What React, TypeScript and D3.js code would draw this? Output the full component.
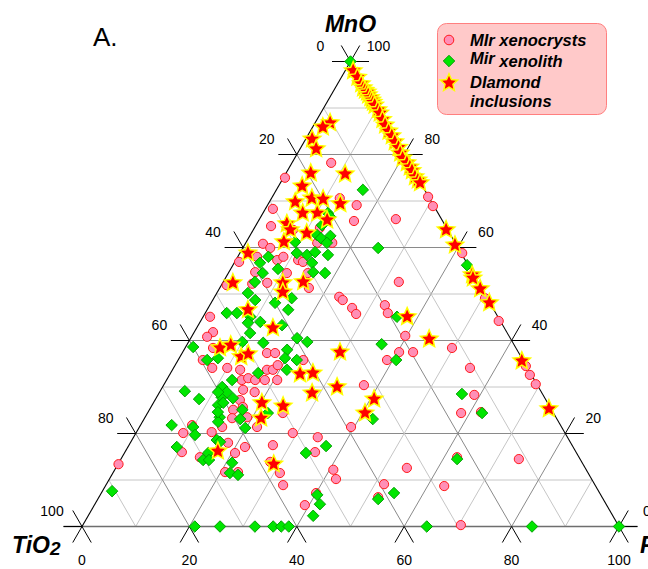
import React, { useEffect } from 'react';
import * as d3 from 'd3';

const W = 648;
const H = 569;

// Compositions as [MnO, FeO] in %; TiO2 is the remainder to 100.
const xenocrysts: [number, number][] = [
  [70.9, 29.0], [68.9, 30.9], [58.8, 41.4], [49.1, 50.5], [44.2, 55.5], [34.5, 65.4], [32.6, 67.1], [30.6, 69.2],
  [52.6, 32.7], [49.4, 23.2], [48.7, 24.2], [47.0, 26.8], [45.7, 28.2], [47.6, 32.6], [45.9, 34.0], [41.0, 39.7],
  [37.5, 40.3], [37.5, 42.9], [35.8, 38.9], [38.4, 49.7], [34.1, 55.2], [30.4, 37.3], [21.4, 39.4], [28.3, 58.9],
  [24.4, 58.4], [24.6, 62.0], [14.9, 62.4], [14.5, 74.1], [12.6, 54.2], [12.2, 40.7], [10.2, 42.2], [9.1, 51.7],
  [6.3, 52.0], [8.7, 63.1], [0.3, 70.4],
  [70.6, 12.7], [69.1, 16.6], [66.1, 25.4], [78.2, 7.3], [75.0, 0.3], [68.3, 1.4], [65.7, 17.8], [64.6, 2.9],
  [60.8, 3.3], [59.9, 5.1], [56.9, 0.8], [58.0, 3.6], [57.3, 7.7], [63.8, 7.4], [64.2, 12.2], [61.0, 13.3],
  [61.0, 16.1], [58.0, 8.5], [57.3, 11.6], [56.9, 12.7], [54.7, 4.9], [54.5, 10.9], [54.5, 14.8], [51.9, 1.0],
  [52.2, 5.6], [52.4, 8.3], [51.3, 16.6], [45.1, 1.3], [41.8, 3.5], [40.8, 2.9], [38.4, 5.2], [35.8, 4.6],
  [34.1, 7.2], [34.1, 10.0], [33.7, 12.6], [31.5, 14.0], [31.9, 15.0], [31.5, 16.5], [31.5, 18.3], [37.3, 15.8],
  [37.3, 17.3], [33.7, 17.6], [33.7, 18.7], [31.5, 20.6], [34.7, 19.1], [35.8, 23.3], [29.4, 15.3], [28.9, 17.7],
  [27.2, 15.8], [25.7, 17.1], [25.1, 15.6], [23.3, 16.3], [23.5, 19.0], [21.4, 21.9], [20.1, 8.8], [20.3, 14.0],
  [18.0, 18.2], [15.8, 20.6], [17.1, 21.8], [17.5, 26.8], [20.1, 29.2], [19.2, 34.3], [16.0, 35.4], [13.9, 28.1],
  [11.5, 31.1], [16.0, 10.6], [14.9, 14.5], [11.7, 20.8], [11.7, 23.2], [8.9, 33.0], [24.4, 25.2], [21.4, 15.4],
  [4.6, 39.2], [7.2, 40.0], [13.4, 0.1], [21.8, 9.6],
];

const xenoliths: [number, number][] = [
  [100, 0], [72.4, 16.1], [59.9, 25.2], [67.4, 12.1], [66.6, 12.9], [64.8, 12.3], [61.2, 9.1], [62.7, 12.4],
  [62.0, 13.5], [62.5, 15.0], [61.0, 15.1], [58.8, 10.6], [58.4, 12.7], [59.0, 13.9], [58.4, 16.6], [56.7, 14.5],
  [54.7, 15.7], [54.5, 18.0], [56.7, 4.8], [58.0, 5.7], [55.4, 8.8], [54.5, 6.4], [52.6, 5.9], [50.2, 5.8],
  [48.7, 7.9], [48.1, 11.9], [46.6, 15.1], [49.1, 14.5], [45.9, 4.0], [45.9, 5.9], [45.1, 8.8], [44.0, 11.2],
  [43.8, 9.0], [41.6, 10.5], [43.3, 15.6], [39.7, 10.0], [39.5, 14.0], [40.5, 19.8], [39.7, 22.1], [38.6, 1.4],
  [35.8, 5.4], [36.2, 7.2], [38.0, 19.2], [36.2, 19.7], [35.8, 22.1], [33.7, 21.3], [33.0, 16.3], [31.5, 12.2],
  [29.4, 11.6], [29.1, 4.6], [27.4, 8.1], [27.8, 12.1], [26.1, 12.3], [26.6, 13.0], [25.1, 17.3], [24.4, 22.4],
  [23.5, 13.9], [22.5, 14.1], [21.2, 19.8], [21.8, 5.8], [21.4, 10.0], [19.7, 11.2], [17.1, 9.1], [15.8, 15.6],
  [14.3, 15.4], [14.3, 16.5], [13.7, 21.1], [11.5, 21.8], [11.1, 23.5], [17.3, 36.8], [15.8, 33.8], [7.6, 1.8],
  [30.0, 11.1], [28.9, 12.5], [28.9, 10.9], [27.6, 14.3], [24.6, 13.0], [23.1, 17.9], [18.6, 15.8], [18.2, 16.6],
  [6.8, 40.4], [4.8, 41.9], [2.3, 41.9], [45.1, 36.1], [39.2, 36.2], [35.8, 40.6], [23.1, 42.6], [28.5, 56.5],
  [24.4, 62.3], [14.5, 62.6], [7.2, 54.5], [5.9, 52.2], [56.2, 43.6],
  [0, 21.0], [0, 25.7], [0, 32.2], [0, 35.6], [0, 37.1], [0, 38.5], [0, 64.2], [0, 83.8], [0, 100],
];

const inclusions: [number, number][] = [
  [98.0, 1.5], [96.6, 3.0], [95.2, 4.4], [94.3, 5.2], [93.8, 5.8], [93.4, 6.4], [92.8, 6.9], [92.2, 7.6],
  [91.7, 8.1], [91.2, 8.6], [90.6, 9.2], [89.6, 10.3], [88.9, 11.0], [87.5, 12.2], [86.3, 13.3], [85.0, 14.6],
  [84.0, 15.7], [82.7, 16.9], [81.5, 18.2], [80.3, 19.1], [79.2, 20.1], [78.2, 21.4], [77.3, 22.4], [76.5, 23.2],
  [75.2, 24.4], [74.5, 25.3], [73.9, 26.0],
  [63.8, 35.9], [60.5, 39.2], [54.1, 45.6], [53.4, 46.1], [51.1, 48.6], [48.1, 51.8], [35.6, 64.1], [25.3, 74.3],
  [86.8, 2.8], [85.9, 1.9], [83.3, 1.2], [81.2, 3.0], [76.0, 4.6], [75.8, 11.1], [73.2, 4.4], [69.8, 4.8],
  [70.6, 7.5], [70.4, 9.7], [69.4, 13.4], [67.4, 7.4], [67.4, 10.1], [65.9, 12.7], [65.1, 5.6], [63.8, 6.9],
  [63.1, 10.3], [61.2, 7.0], [58.8, 1.5], [52.4, 1.9], [52.4, 11.2], [50.4, 12.2], [52.6, 14.9], [46.6, 7.6],
  [42.7, 14.2], [38.4, 6.5], [39.0, 8.2], [36.5, 11.4], [37.1, 12.4], [32.8, 24.2], [33.0, 26.5], [28.7, 28.5],
  [30.0, 32.5], [37.5, 29.3], [26.6, 20.2], [25.9, 24.5], [23.3, 21.7], [16.2, 17.2], [13.4, 29.0], [45.1, 38.0],
  [40.3, 44.5], [27.4, 40.7], [24.4, 40.5],
];

const axisTicks = [0, 20, 40, 60, 80, 100];
const gridSteps = d3.range(10, 100, 10);

const legendItems = [
  { kind: 'circle', lines: ['MIr xenocrysts'] },
  { kind: 'diamond', lines: ['Mir', 'xenolith'] },
  { kind: 'star', lines: ['DIamond', 'inclusions'] },
];

const FONT = "'Liberation Sans', Arial, Helvetica, sans-serif";

// Baseline runs from the TiO2 vertex (FeO 0) to the FeO vertex (FeO 100)
const xScale = d3.scaleLinear().domain([0, 100]).range([82, 619]);
// MnO rises from the baseline to the apex
const yScale = d3.scaleLinear().domain([0, 100]).range([526.5, 61.5]);

const project = (mno: number, feo: number): [number, number] => [xScale(feo + mno / 2), yScale(mno)];

const circleColor = { fill: '#ff8fb6', stroke: '#ff1a1a' };
const diamondColor = { fill: '#00e600', stroke: '#009a00' };
const starColor = { fill: '#ff0000', stroke: '#ffff00' };

// Five-pointed star with a fuller body than d3.symbolStar
const fatStar: d3.SymbolType = {
  draw(context, size) {
    const R = Math.sqrt(size / 1.2);
    const r = R * 0.46;
    for (let i = 0; i < 10; i++) {
      const rad = i % 2 === 0 ? R : r;
      const a = (i * Math.PI) / 5 - Math.PI / 2;
      const x = Math.cos(a) * rad;
      const y = Math.sin(a) * rad;
      if (i === 0) context.moveTo(x, y);
      else context.lineTo(x, y);
    }
    context.closePath();
  },
};

const starPath = d3.symbol().type(fatStar).size(100)() as string;
const diamondPath = d3.symbol().type(d3.symbolSquare).size(66)() as string;

const EXT = 18.5;
const S3 = Math.sqrt(3) / 2;

function gridLines() {
  const out: { p1: [number, number]; p2: [number, number]; v: number }[] = [];
  gridSteps.forEach((v) => {
    // constant MnO
    out.push({ p1: project(v, 0), p2: project(v, 100 - v), v });
    // constant FeO
    out.push({ p1: project(0, v), p2: project(100 - v, v), v });
    // constant TiO2
    out.push({ p1: project(0, 100 - v), p2: project(100 - v, 0), v });
  });
  return out;
}

export default function App() {
  useEffect(() => {
    document.body.style.margin = '0';
  }, []);

  const apex = project(100, 0);
  const left = project(0, 0);
  const right = project(0, 100);

  const tickSegs: { x1: number; y1: number; x2: number; y2: number }[] = [];
  const tickLabels: { x: number; y: number; text: string }[] = [];

  axisTicks.forEach((t) => {
    // left side: TiO2 = t
    const [lx, ly] = project(100 - t, 0);
    tickSegs.push({ x1: lx, y1: ly, x2: lx - EXT, y2: ly });
    tickSegs.push({ x1: lx, y1: ly, x2: lx - EXT / 2, y2: ly - EXT * S3 });
    tickLabels.push({ x: lx - 30, y: ly - 11, text: String(t) });
    // right side: MnO = t
    const [rx, ry] = project(t, 100 - t);
    tickSegs.push({ x1: rx, y1: ry, x2: rx + EXT, y2: ry });
    tickSegs.push({ x1: rx, y1: ry, x2: rx + EXT / 2, y2: ry - EXT * S3 });
    tickLabels.push({ x: rx + 28, y: ry - 11, text: String(t) });
    // bottom: FeO = t
    const [bx, by] = project(0, t);
    tickSegs.push({ x1: bx, y1: by, x2: bx - EXT / 2, y2: by + EXT * S3 });
    tickSegs.push({ x1: bx, y1: by, x2: bx + EXT / 2, y2: by + EXT * S3 });
    tickLabels.push({ x: bx, y: 565, text: String(t) });
  });

  const lx0 = 437.5, ly0 = 23.5, lw = 169, lh = 91;

  return (
    <svg width={W} height={H} viewBox={`0 0 ${W} ${H}`}
      style={{ position: 'absolute', left: 0, top: 0, background: '#ffffff' }}
      fontFamily={FONT}>
      <text x={93} y={46} fontSize={26} fill="#000">A.</text>

      {/* grid */}
      <g>
        {gridLines().map((g, i) => (
          <line key={i} x1={g.p1[0]} y1={g.p1[1]} x2={g.p2[0]} y2={g.p2[1]}
            stroke={g.v % 20 === 0 ? '#8a8a8a' : '#c6c6c6'} strokeWidth={1} />
        ))}
      </g>

      {/* outline */}
      <line x1={left[0] - EXT} y1={left[1]} x2={right[0] + EXT} y2={right[1]} stroke="#6e6e6e" strokeWidth={1.6} />
      <line x1={left[0]} y1={left[1]} x2={apex[0]} y2={apex[1]} stroke="#000" strokeWidth={1.1} />
      <line x1={right[0]} y1={right[1]} x2={apex[0]} y2={apex[1]} stroke="#000" strokeWidth={1.1} />

      {/* tick extensions */}
      <g stroke="#000" strokeWidth={1}>
        {tickSegs.map((s, i) => (
          <line key={i} x1={s.x1} y1={s.y1} x2={s.x2} y2={s.y2} />
        ))}
      </g>
      <g fontSize={14} fill="#000" textAnchor="middle">
        {tickLabels.map((l, i) => (
          <text key={i} x={l.x} y={l.y}>{l.text}</text>
        ))}
      </g>

      {/* axis titles */}
      <g fontWeight="bold" fontStyle="italic" fill="#000">
        <text x={apex[0]} y={32} fontSize={23} textAnchor="middle">MnO</text>
        <text x={12} y={553} fontSize={23}>TiO<tspan fontSize={19} dy={2}>2</tspan></text>
        <text x={640} y={553} fontSize={23}>FeO</text>
      </g>

      {/* data */}
      <g>
        {xenocrysts.map(([m, f], i) => {
          const [x, y] = project(m, f);
          return <circle key={i} cx={x} cy={y} r={4.6} fill={circleColor.fill} stroke={circleColor.stroke} strokeWidth={1} />;
        })}
      </g>
      <g>
        {xenoliths.map(([m, f], i) => {
          const [x, y] = project(m, f);
          return <path key={i} d={diamondPath} transform={`translate(${x},${y}) rotate(45)`}
            fill={diamondColor.fill} stroke={diamondColor.stroke} strokeWidth={0.9} />;
        })}
      </g>
      <g>
        {inclusions.map(([m, f], i) => {
          const [x, y] = project(m, f);
          return <path key={i} d={starPath} transform={`translate(${x},${y})`}
            fill={starColor.fill} stroke={starColor.stroke} strokeWidth={1.5} strokeLinejoin="miter" />;
        })}
      </g>

      {/* legend */}
      <g>
        <rect x={lx0} y={ly0} width={lw} height={lh} rx={9} ry={9} fill="#ffc9c9" stroke="#ff7f7f" strokeWidth={1} />
        <circle cx={449} cy={40} r={4.8} fill={circleColor.fill} stroke={circleColor.stroke} strokeWidth={1} />
        <path d={diamondPath} transform="translate(449,61) rotate(45)" fill={diamondColor.fill} stroke={diamondColor.stroke} strokeWidth={0.9} />
        <path d={starPath} transform="translate(449,83)" fill={starColor.fill} stroke={starColor.stroke} strokeWidth={1.5} />
        <g fontWeight="bold" fontStyle="italic" fontSize={16.5} fill="#000">
          <text x={470} y={46}>{legendItems[0].lines[0]}</text>
          <text x={470} y={64}>{legendItems[1].lines[0]}<tspan dy={3}> {legendItems[1].lines[1]}</tspan></text>
          <text x={470} y={88}>{legendItems[2].lines[0]}</text>
          <text x={470} y={107}>{legendItems[2].lines[1]}</text>
        </g>
      </g>
    </svg>
  );
}
